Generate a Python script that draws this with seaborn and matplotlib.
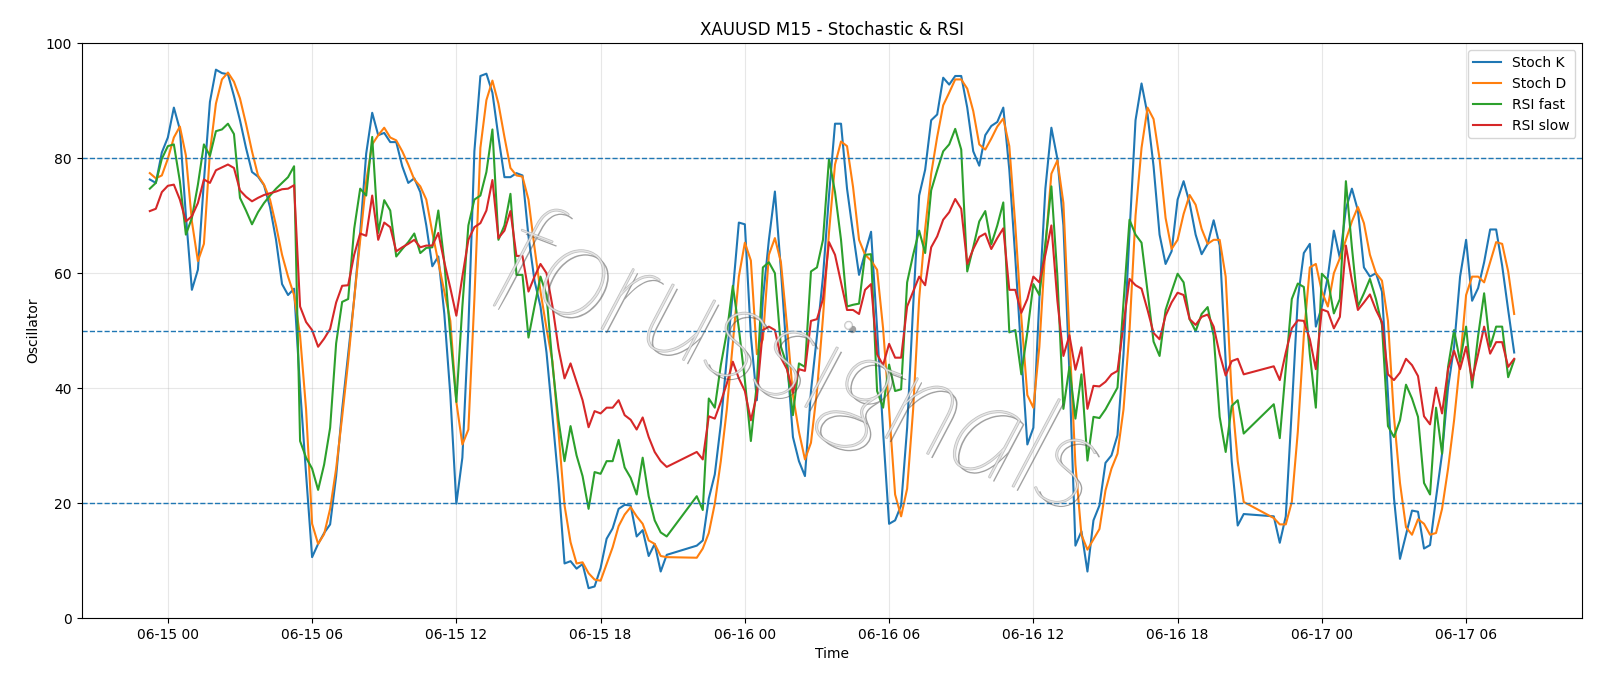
import pandas as pd
import matplotlib
matplotlib.use("Agg")
import matplotlib.pyplot as plt
import matplotlib.dates as mdates
import matplotlib.patheffects as pe
import seaborn as sns

# M15 bars, 06-14 23:15 -> 06-17 08:00, daily break (21:00-21:45) has no bars
bar_times = pd.date_range("2025-06-14 23:15", "2025-06-17 08:00", freq="15min")
bar_times = bar_times[bar_times.hour != 21]

stoch_k = [
    76.3, 75.7, 81,
    83.6, 88.8, 85, 70, 57.1, 60.6, 76, 89.8, 95.4, 94.8,
    94.6, 90.8, 86.6, 81.8, 77.6, 76.8, 75.3, 71.5, 65.8, 58.1,
    56.2, 57.3, 40, 25, 10.6, 12.9, 14.8, 16.3, 24.7, 36.3,
    45.9, 55.5, 67, 80.8, 87.9, 84, 84.4, 82.8, 82.8, 78.6,
    75.7, 76.5, 74.1, 68.3, 61.2, 62.9, 52.9, 38.8, 19.9, 27.9,
    50.4, 81.2, 94.3, 94.7, 91.4, 83.7, 76.7, 76.7, 77.4, 77,
    66.4, 58.7, 54.2, 46.2, 35, 23.5, 9.5, 9.9, 8.6, 9.4,
    5.2, 5.5, 8.7, 13.8, 15.6, 19, 19.7, 19.6, 14.2, 15.3,
    10.8, 12.9, 8.1, 11,
    12.6, 13.5,
    20.8, 25, 33.7, 45.3, 56.8, 68.8, 68.5, 49.1, 37.9, 55.5,
    65.8, 74.2, 60.6, 45.3, 31.5, 27.3, 24.7, 39.5, 49.1, 59.4,
    73.5, 86, 86, 74.7, 67, 59.7, 63.5, 67.2, 50.4, 32.4,
    16.4, 17, 19.6, 33.1, 54.2, 73.5, 78, 86.6, 87.6, 94,
    92.8, 94.3, 94.3, 88.8, 81.2, 78.7, 84, 85.6, 86.3, 88.8,
    78, 62.6, 45.9, 30.2, 33.1, 55.5, 74.7, 85.3, 79.9, 68.3,
    42.7, 12.6, 15.1, 8.1, 17, 19.6, 27, 28.3, 31.8, 45.9,
    67, 86.6, 93, 87.6, 78.6, 66.7, 61.6, 63.8, 72.8, 76,
    72.2, 66.7, 63.3, 65.1, 69.2, 64.8, 44.6, 27.3, 16.1, 18.1,
    17.7, 13.1, 17.7, 36.3, 55.5, 63.5,
    65.1, 50.7, 54.2, 59.4, 67.4, 62.6, 71.2, 74.7, 70.9, 61,
    59.4, 60, 56.8, 38.8, 20.9, 10.3, 14.5, 18.7, 18.5, 12.1,
    12.7, 20.9, 28.6, 40.1, 47.2, 59.4, 65.8, 55.2, 57.4, 61.9,
    67.6, 67.6, 61.3, 53.6, 46.2,
]

stoch_d = [
    77.4, 76.5, 77,
    79.9, 83.6, 85.5, 80.5, 69, 62.1, 65.1, 81, 89.5, 93.7,
    94.9, 93.3, 90.4, 86, 81.2, 77, 75.4, 72.8, 68.3, 63.2,
    59.4, 56.2, 49.1, 36.3, 16.4, 12.9, 14.6, 19, 26, 35,
    44.6, 55.5, 65.8, 76, 82.4, 84, 85.3, 83.6, 83.1, 81.2,
    78.9, 76.3, 75.1, 72.8, 67.1, 61.9, 56.8, 51.7, 37.6, 30.2,
    32.8, 55.5, 81.8, 90.1, 93.5, 89.5, 83.7, 78.3, 77, 76.8,
    72.8, 64.5, 56.8, 50.4, 44.6, 32.4, 19.6, 13.2, 9.5, 9.7,
    7.8, 6.7, 6.5, 9.4, 12.3, 16, 18, 19.3, 17.7, 16.4,
    13.5, 12.9, 10.8, 10.6,
    10.5, 12.1,
    14.8, 19.9, 27.3, 36.3, 47.8, 59.4, 65.3, 62.2, 45.9, 48.5,
    63.2, 66.1, 61.9, 51, 38.8, 32.4, 27.6, 30.5, 39.5, 52.3,
    67.1, 78.9, 82.9, 82.1, 75, 65.8, 63.2, 62.2, 60.6, 50.4,
    36.3, 21.5, 17.7, 22.5, 36.3, 55.5, 67.7, 77.3, 83.7, 89.2,
    91.4, 93.7, 93.7, 92.1, 88.2, 82.4, 81.5, 83.4, 85.5, 86.9,
    82.1, 68.3, 52.3, 38.8, 36.6, 47.2, 64.5, 77.3, 79.6, 72.2,
    49.1, 26.7, 14.5, 11.9, 13.7, 15.5, 22.2, 26, 28.6, 36.3,
    50, 70, 81.8, 88.8, 86.8, 79.9, 69.6, 64.2, 65.8, 70.3,
    73.6, 71.9, 67.7, 65.1, 65.8, 65.8, 59.4, 38.8, 27.3, 20.2,
    17.4, 16.3, 16.3, 20.2, 32.4, 49.1,
    61, 61.6, 56.8, 54.2, 60, 62.6, 65.8, 69, 71.5, 68.7,
    63.2, 60, 58.7, 51.7, 35, 23.5, 15.8, 14.5, 17.2, 16.4,
    14.5, 14.8, 19, 26, 34.4, 44.6, 56.2, 59.4, 59.4, 58.4,
    61.9, 65.4, 65.1, 60.3, 52.9,
]

rsi_fast = [
    74.7, 75.7, 79.9,
    82.1, 82.4, 76, 66.7, 69.6, 75.4, 82.4, 80.4, 84.7, 85,
    86, 84.2, 73.1, 70.9, 68.5, 70.6, 72.2, 73.5, 74.7, 75.7,
    76.7, 78.6, 30.8, 27.9, 26, 22.3, 26.7, 33.1, 47.8, 55,
    55.5, 67.7, 74.7, 73.5, 83.7, 67, 72.7, 70.9, 62.9, 64.2,
    65.4, 66.9, 63.5, 64.4, 64.5, 70.9, 61.9, 49.1, 37.6, 54.2,
    68.3, 72.8, 73.5, 77.6, 85, 65.8, 68.3, 73.8, 59.7, 59.7,
    48.8, 54.2, 59.4, 56.2, 44, 34.4, 27.3, 33.4, 28.3, 24.7,
    19, 25.4, 25.1, 27.3, 27.3, 31, 26.2, 24.4, 21.5, 27.9,
    21.2, 17, 14.9, 14.2,
    21.2, 18.8,
    38.2, 36.6, 44, 49.7, 57.8, 50.4, 41.4, 30.8, 40.8, 61,
    61.9, 60, 47.2, 44, 35.3, 44.3, 43.7, 60.3, 61, 65.8,
    79.9, 74.1, 65.8, 54.2, 54.5, 54.7, 63.2, 63.3, 39.5, 36.6,
    44.1, 39.5, 39.8, 58.4, 63.2, 67.4, 63.5, 74.4, 77.9, 81.2,
    82.4, 85.1, 81.5, 60.3, 64.5, 69, 70.8, 65, 68.3, 72.3,
    49.7, 50.1, 42.4, 49.7, 58.1, 56.2, 65.1, 75.1, 59.4, 36.4,
    43.7, 34.7, 42.4, 27.4, 35, 34.8, 36.3, 38.2, 40.1, 54.9,
    69.3, 66.7, 65.3, 56.8, 48.1, 45.6, 53.6, 56.8, 59.9, 58.4,
    52, 49.9, 52.9, 54.1, 49.1, 35, 28.9, 36.9, 37.9, 32.1,
    37.2, 31.3, 43.5, 55.5, 58.2, 57.6,
    45.9, 36.6, 59.9, 58.8, 53, 55.5, 76, 64.5, 54.2, 56.5,
    59, 55.5, 51, 33.4, 31.5, 34.4, 40.6, 38.2, 35, 23.5,
    21.5, 36.6, 28.6, 43.7, 50.1, 44.6, 50.7, 40.1, 49.1, 56.5,
    47.2, 50.7, 50.7, 41.9, 44.9,
]

rsi_slow = [
    70.8, 71.2, 74.1,
    75.2, 75.4, 72.8, 69, 69.9, 72.2, 76.3, 75.7, 77.9, 78.4,
    78.9, 78.3, 74.4, 73.3, 72.5, 73.1, 73.6, 73.9, 74.2, 74.6,
    74.7, 75.3, 54.2, 51.5, 50.1, 47.2, 48.6, 50.3, 54.9, 57.8,
    57.9, 63.2, 66.9, 66.5, 73.5, 65.8, 68.8, 68, 63.8, 64.5,
    65.1, 65.8, 64.5, 64.8, 64.8, 67, 61.9, 57.4, 52.6, 59.4,
    65.8, 68, 68.7, 70.9, 76.2, 66.1, 67.4, 70.8, 63, 63,
    56.8, 59.4, 61.6, 60, 54.2, 46.9, 41.7, 44.3, 41.1, 37.9,
    33.2, 36, 35.6, 36.6, 36.6, 37.9, 35.3, 34.5, 32.8, 34.9,
    31.5, 28.9, 27.3, 26.3,
    28.9, 27.6,
    35.1, 34.7, 37.6, 40.8, 44.6, 41.7, 39.5, 34.4, 38.8, 50.1,
    50.7, 50.1, 45.3, 43.3, 39.2, 43.3, 43, 51.7, 52, 55.5,
    65.4, 63.2, 58.4, 53.6, 53.6, 52.9, 57.1, 58.1, 45.9, 44,
    47.7, 45.3, 45.3, 54.2, 56.8, 59.4, 57.9, 64.5, 66.4, 69.3,
    70.6, 72.9, 71.2, 61.6, 64.2, 66.3, 66.9, 64.2, 66.1, 67.8,
    57.1, 57.1, 53.1, 55.5, 59.4, 58.4, 63.2, 68.3, 55.2, 45.6,
    49.2, 43.2, 47.1, 36.4, 40.4, 40.3, 41.1, 42.4, 43, 51,
    59, 57.9, 57.3, 53.6, 49.6, 48.5, 52.6, 54.9, 56.6, 56.2,
    52, 51, 52.4, 52.8, 50.7, 45.9, 42.2, 44.7, 45.1, 42.4,
    43.8, 41.4, 46.2, 50.4, 51.8, 51.7,
    48.5, 43.3, 53.7, 53.3, 50.4, 52.4, 64.8, 58.7, 53.6, 54.9,
    56.3, 53.6, 51.5, 42.4, 41.4, 42.7, 45.1, 44, 42.1, 35.1,
    33.7, 40.1, 35.6, 43.3, 46.5, 43.3, 47.2, 41.4, 45.9, 50.7,
    46, 48, 48, 43.7, 45.1,
]

levels = [80, 50, 20]

df = pd.DataFrame({
    "time": bar_times,
    "Stoch K": stoch_k,
    "Stoch D": stoch_d,
    "RSI fast": rsi_fast,
    "RSI slow": rsi_slow,
})

fig, ax = plt.subplots(figsize=(16, 6.86), dpi=100)

for col, c in zip(["Stoch K", "Stoch D", "RSI fast", "RSI slow"],
                  ["tab:blue", "tab:orange", "tab:green", "tab:red"]):
    sns.lineplot(data=df, x="time", y=col, color=c, linewidth=1.5, label=col, ax=ax)

for lvl in levels:
    ax.axhline(lvl, linestyle="--", linewidth=1, color="tab:blue")

ax.set_ylim(0, 100)
ax.grid(True, alpha=0.3)
ax.set_title("XAUUSD M15 - Stochastic & RSI")
ax.set_xlabel("Time")
ax.set_ylabel("Oscillator")
ax.xaxis.set_major_locator(mdates.HourLocator(byhour=[0, 6, 12, 18]))
ax.xaxis.set_major_formatter(mdates.DateFormatter("%m-%d %H"))
ax.legend(loc="upper right")

# watermark: thin light text, white fill over the lines, grey shadow
ax.text(0.478, 0.44, "forussignals", transform=ax.transAxes, fontsize=98,
        family="Lato", fontweight="light", style="italic",
        rotation=-21, ha="center", va="center",
        color="white", alpha=0.6, zorder=5,
        path_effects=[pe.SimplePatchShadow(offset=(3, -3), shadow_rgbFace="#444444", alpha=0.5),
                      pe.Stroke(linewidth=1.2, foreground="#999999"),
                      pe.Normal()])

fig.subplots_adjust(left=0.051, right=0.989, top=0.937, bottom=0.099)
fig.savefig("out.png", dpi=100)
